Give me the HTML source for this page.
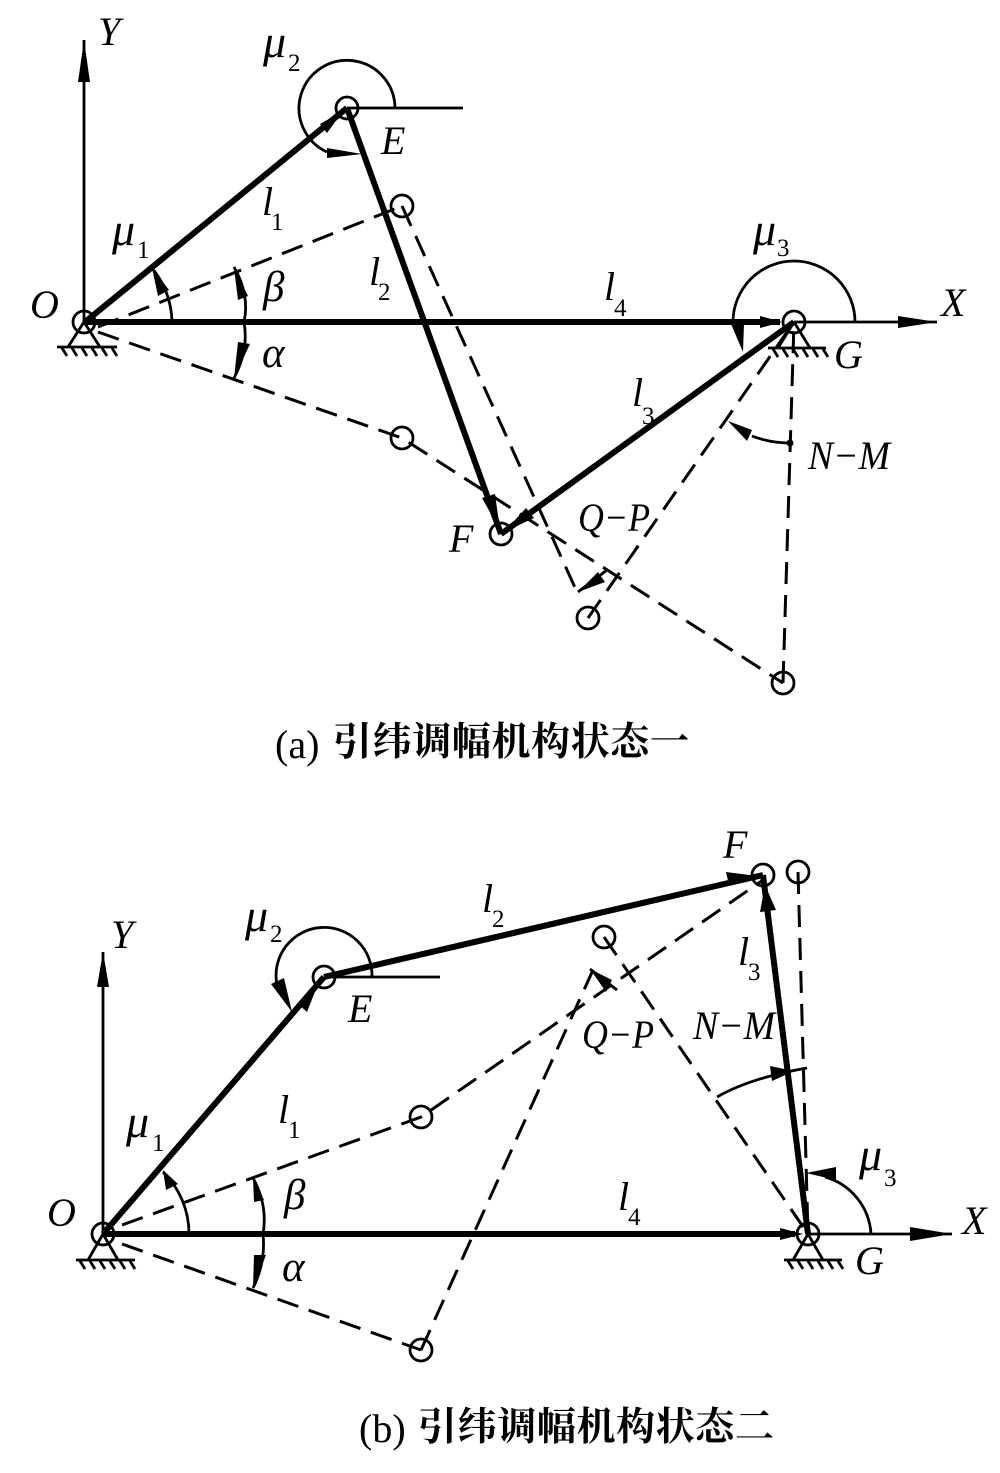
<!DOCTYPE html>
<html><head><meta charset="utf-8"><style>
html,body{margin:0;padding:0;background:#fff}
svg{display:block}
text{fill:#000;font-family:"Liberation Serif","Noto Serif CJK SC",serif}
.i{font-style:italic;font-size:40px}
.m{font-style:italic;font-size:46px}
.g{font-style:italic;font-size:43px}
.s{font-size:25px}
.c{font-size:40px}
.z{font-size:39px;font-family:"Liberation Serif","Noto Serif CJK SC",serif;font-weight:700}
.t{stroke:#000;stroke-width:6;fill:none}
.n{stroke:#000;stroke-width:2.8;fill:none}
.d{stroke:#000;stroke-width:3;fill:none;stroke-dasharray:22 11}
</style></head><body>
<svg width="1000" height="1473" viewBox="0 0 1000 1473" xmlns="http://www.w3.org/2000/svg">
<rect width="1000" height="1473" fill="#fff"/>

<!-- (a) -->
<path class="d" d="M98 327L402 206M402 206L577 592M98 332L402 438L783 683M588 618L794 322M783 683L794 322"/>
<path class="n" d="M84 322V40M794 322H937M347 108H463"/>
<path class="t" d="M85 322L347 108M347 108L501 534M85 322H780M794 322L501 534"/>
<g class="n" fill="none">
<path d="M172 322A87 87 0 0 0 152 268"/>
<path d="M395 108A48 48 0 1 0 327 152"/>
<path d="M855 322A61 61 0 1 0 733 322"/>
<path d="M234 267Q250 295 244 322Q249 350 234 378"/>
<path d="M752 436Q770 443 790 443"/>
<path d="M578 592L607 570"/>
</g>
<circle cx="84" cy="322" r="11" class="n"/>
<circle cx="794" cy="322" r="11" class="n"/>
<circle cx="347" cy="108" r="11" class="n"/>
<circle cx="402" cy="206" r="11" class="n"/>
<circle cx="402" cy="438" r="11" class="n"/>
<circle cx="501" cy="534" r="11" class="n"/>
<circle cx="588" cy="618" r="11" class="n"/>
<circle cx="783" cy="683" r="11" class="n"/>
<circle cx="790" cy="443" r="3.5" fill="#000"/>
<path d="M84 40L78 82H90Z M937 322L898 316V328Z M782 322L760 316V328Z M343 111L320 124L327 133Z M500 530L482 498L495 494Z M504 532L526 508L534 518Z M152 268L158 296L169 290Z M362 154L327 148V158Z M731 324H744L743 352Z M234 268L238 300L248 296Z M234 378L238 342L250 344Z M728 421L752 430L747 441Z M578 592L598 572L605 582Z" fill="#000"/>
<path class="n" d="M84 322L68 347M84 322L100 347M57 347H117M62 348l5 8M72 348l5 8M82 348l5 8M92 348l5 8M102 348l5 8M112 348l5 8"/>
<path class="n" d="M794 322L778 348M794 322L810 348M768 348H826M773 349l5 8M783 349l5 8M793 349l5 8M803 349l5 8M813 349l5 8M823 349l5 8"/>

<text class="i" x="98" y="45">Y</text>
<text class="m" x="263" y="57">μ</text><text class="s" x="288" y="71">2</text>
<text class="i" x="381" y="154">E</text>
<text class="i" x="262" y="215">l</text><text class="s" x="271" y="230">1</text>
<text class="m" x="112" y="245">μ</text><text class="s" x="137" y="258">1</text>
<text class="i" x="30" y="318">O</text>
<text class="g" x="263" y="301">β</text>
<text class="g" x="262" y="367">α</text>
<text class="i" x="369" y="285">l</text><text class="s" x="378" y="300">2</text>
<text class="i" x="604" y="300">l</text><text class="s" x="614" y="316">4</text>
<text class="m" x="753" y="245">μ</text><text class="s" x="777" y="256">3</text>
<text class="i" x="941" y="316">X</text>
<text class="i" x="834" y="368">G</text>
<text class="i" x="632" y="406">l</text><text class="s" x="642" y="424">3</text>
<text class="i" x="808" y="469" textLength="82" lengthAdjust="spacingAndGlyphs">N−M</text>
<text class="i" x="578" y="531" textLength="72" lengthAdjust="spacingAndGlyphs">Q−P</text>
<text class="i" x="449" y="552">F</text>
<text class="c" x="275" y="758">(a)</text>
<text class="z" x="333" y="755" textLength="356" lengthAdjust="spacing">引纬调幅机构状态一</text>

<!-- (b) -->
<path class="d" d="M122 1225L421 1117L763 880M122 1244L421 1350M421 1350L593 970M604 937L808 1234M798 872L808 1234"/>
<path class="n" d="M103 1234V952M808 1234H952M324 977H440"/>
<path class="t" d="M103 1234L324 977M324 977L763 875M103 1234H795M808 1234L763 875"/>
<g class="n" fill="none">
<path d="M189 1234A86 86 0 0 0 163 1172"/>
<path d="M372 977A48 48 0 1 0 277 985"/>
<path d="M871 1234A63 63 0 0 0 825 1177"/>
<path d="M253 1178Q268 1205 263 1234Q266 1262 253 1288"/>
<path d="M717 1097Q750 1078 807 1068"/>
<path d="M590 969L617 990"/>
</g>
<circle cx="103" cy="1234" r="11" class="n"/>
<circle cx="808" cy="1234" r="11" class="n"/>
<circle cx="324" cy="977" r="11" class="n"/>
<circle cx="421" cy="1117" r="11" class="n"/>
<circle cx="421" cy="1350" r="11" class="n"/>
<circle cx="604" cy="937" r="11" class="n"/>
<circle cx="763" cy="875" r="11" class="n"/>
<circle cx="798" cy="872" r="11" class="n"/>
<path d="M103 952L97 987H109Z M952 1234L910 1227V1241Z M803 1234L780 1228V1240Z M318 984L298 1004L307 1012Z M757 876L726 872L729 885Z M765 885L760 912L776 910Z M163 1170L166 1190L178 1184Z M292 1012L271 984L284 978Z M806 1173L836 1167V1180Z M253 1178L254 1202L264 1200Z M253 1288L254 1255L266 1255Z M794 1071L770 1066L772 1081Z M590 969L612 980L606 992Z" fill="#000"/>
<path class="n" d="M103 1234L88 1260M103 1234L118 1260M76 1260H135M80 1261l5 8M90 1261l5 8M100 1261l5 8M110 1261l5 8M120 1261l5 8M130 1261l5 8"/>
<path class="n" d="M808 1234L793 1260M808 1234L823 1260M784 1260H842M788 1261l5 8M798 1261l5 8M808 1261l5 8M818 1261l5 8M828 1261l5 8M838 1261l5 8"/>

<text class="i" x="111" y="948">Y</text>
<text class="m" x="245" y="931">μ</text><text class="s" x="270" y="942">2</text>
<text class="i" x="348" y="1022">E</text>
<text class="i" x="482" y="912">l</text><text class="s" x="492" y="927">2</text>
<text class="i" x="278" y="1123">l</text><text class="s" x="288" y="1138">1</text>
<text class="m" x="126" y="1137">μ</text><text class="s" x="152" y="1151">1</text>
<text class="i" x="47" y="1226">O</text>
<text class="g" x="284" y="1209">β</text>
<text class="g" x="282" y="1281">α</text>
<text class="i" x="723" y="858">F</text>
<text class="i" x="738" y="965">l</text><text class="s" x="748" y="980">3</text>
<text class="i" x="693" y="1039" textLength="82" lengthAdjust="spacingAndGlyphs">N−M</text>
<text class="i" x="582" y="1048" textLength="72" lengthAdjust="spacingAndGlyphs">Q−P</text>
<text class="m" x="859" y="1170">μ</text><text class="s" x="884" y="1186">3</text>
<text class="i" x="962" y="1234">X</text>
<text class="i" x="855" y="1274">G</text>
<text class="i" x="618" y="1210">l</text><text class="s" x="628" y="1225">4</text>
<text class="c" x="359" y="1442">(b)</text>
<text class="z" x="418" y="1440" textLength="356" lengthAdjust="spacing">引纬调幅机构状态二</text>
</svg>
</body></html>
